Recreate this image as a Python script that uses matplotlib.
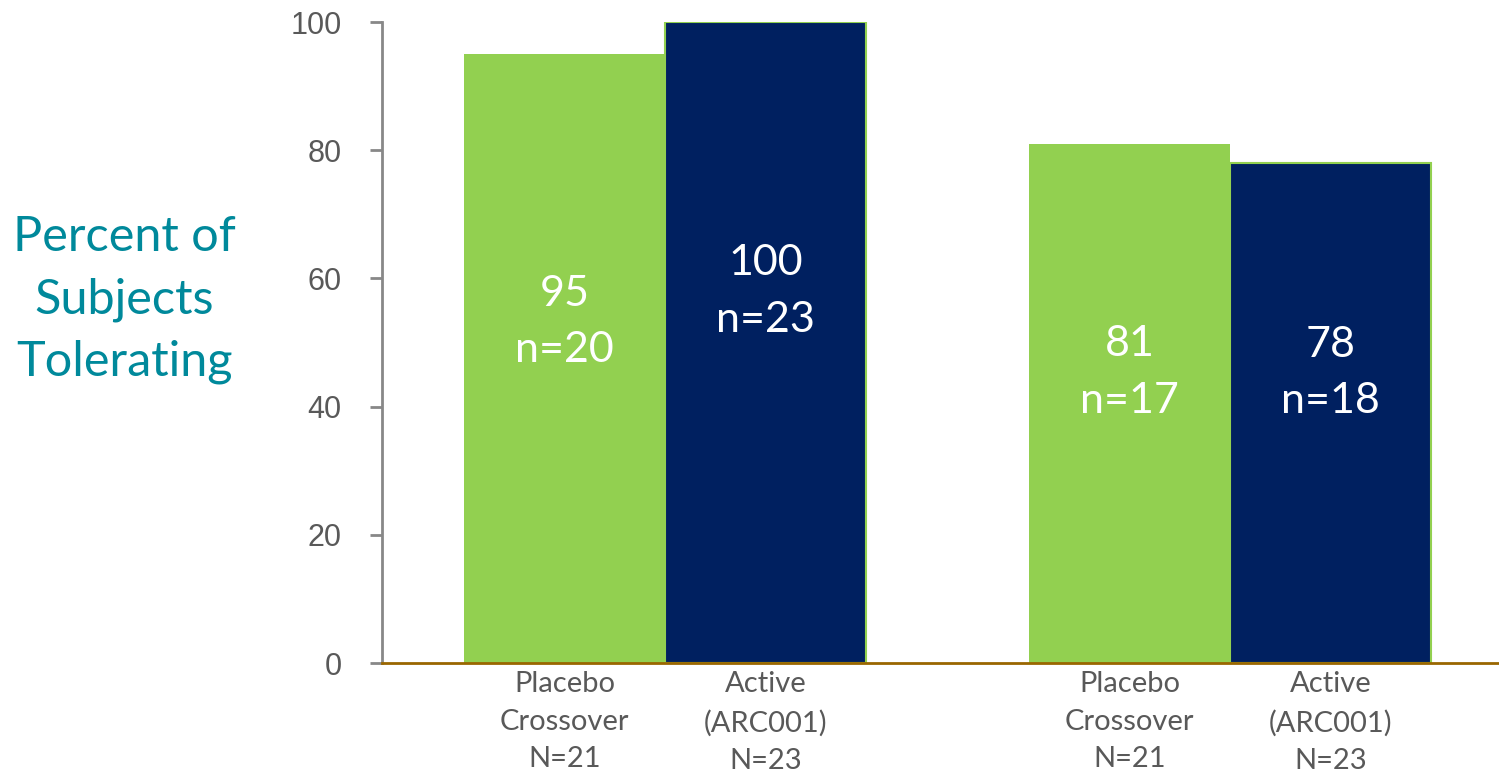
import matplotlib.pyplot as plt
import numpy as np

groups = [0, 1]
placebo_pct = [95, 81]
placebo_n = [20, 17]
active_pct = [100, 78]
active_n = [23, 18]
placebo_label = "Placebo\nCrossover\nN=21"
active_label = "Active\n(ARC001)\nN=23"
y_ticks = [0, 20, 40, 60, 80, 100]

green = "#92D050"
navy = "#002060"
teal = "#00899B"
grey = "#595959"

fig = plt.figure(figsize=(14.99, 7.73), dpi=100)
ax = fig.add_axes([0.2548, 0.1423, 0.7452, 0.8292])

w = 0.356
x = np.array(groups)
ax.bar(x - w / 2, placebo_pct, width=w, color=green, zorder=2)
ax.bar(x + w / 2, active_pct, width=w, color=navy, edgecolor=green,
       linewidth=1.5, zorder=2)

# value and count written inside each bar
for xi, p, n in zip(x - w / 2, placebo_pct, placebo_n):
    ax.text(xi, p * 0.56, f"{p}\nn={n}", ha="center", va="center",
            color="white", fontsize=31, family="Lato", linespacing=1.6)
for xi, p, n in zip(x + w / 2, active_pct, active_n):
    ax.text(xi, p * 0.58, f"{p}\nn={n}", ha="center", va="center",
            color="white", fontsize=31, family="Lato", linespacing=1.6)

ax.set_xlim(-0.501, 1.476)
ax.set_ylim(0, 100)
ax.set_yticks(y_ticks)
ax.tick_params(axis="y", direction="out", length=9, width=2, color="#888888",
               labelsize=22, labelcolor=grey, pad=20)
for lab in ax.get_yticklabels():
    lab.set_family("Liberation Sans")

ticks = np.concatenate([x - w / 2, x + w / 2])
ax.set_xticks(ticks)
ax.set_xticklabels([placebo_label] * 2 + [active_label] * 2,
                   family="Lato", fontsize=21, color=grey, linespacing=1.55)
ax.tick_params(axis="x", length=0, pad=6)

for s in ["top", "right"]:
    ax.spines[s].set_visible(False)
ax.spines["left"].set_color("#888888")
ax.spines["left"].set_linewidth(2)
ax.spines["bottom"].set_color("#996600")
ax.spines["bottom"].set_linewidth(2)
ax.spines["bottom"].set_zorder(3)

fig.text(0.083, 0.612, "Percent of\nSubjects\nTolerating", ha="center",
         va="center", color=teal, fontsize=35, family="Lato", linespacing=1.5)

fig.savefig("out.png", dpi=100)
